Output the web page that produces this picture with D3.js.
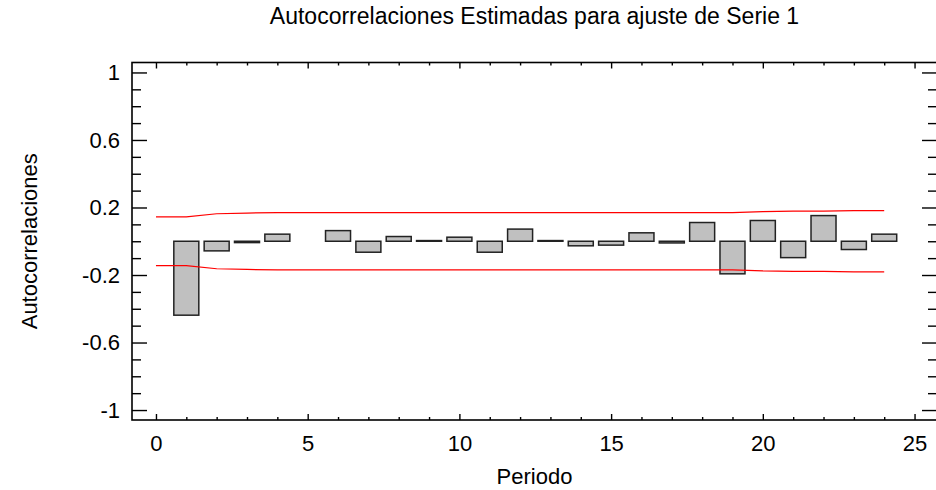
<!DOCTYPE html>
<html>
<head>
<meta charset="utf-8">
<script src="https://cdn.jsdelivr.net/npm/d3@7"></script>
<style>
  html, body { margin: 0; padding: 0; background: #fff; }
  svg { display: block; }
  text { font-family: "Liberation Sans", Arial, sans-serif; fill: #000; }
</style>
</head>
<body>
<svg id="chart" width="936" height="490"></svg>
<script>
// Estimated autocorrelations by lag
const lags = [1, 2, 3, 4, 5, 6, 7, 8, 9, 10, 11, 12, 13, 14, 15, 16, 17, 18, 19, 20, 21, 22, 23, 24];
const acf = [-0.438, -0.057, -0.008, 0.042, 0.0, 0.063, -0.065, 0.028, 0.004, 0.024, -0.065, 0.072,
             0.004, -0.027, -0.023, 0.050, -0.010, 0.111, -0.193, 0.123, -0.097, 0.152, -0.049, 0.042];

// 95% probability limits around zero
const limitLags = [0, 1, 2, 3, 4, 5, 6, 7, 8, 9, 10, 11, 12, 13, 14, 15, 16, 17, 18, 19, 20, 21, 22, 23, 24];
const limits = [0.144, 0.144, 0.163, 0.167, 0.170, 0.170, 0.170, 0.170, 0.170, 0.170, 0.170, 0.170, 0.170,
                0.170, 0.170, 0.170, 0.170, 0.170, 0.170, 0.170, 0.176, 0.178, 0.178, 0.182, 0.182];

const xMajorTicks = [0, 5, 10, 15, 20, 25];
const yMajorTicks = [-1, -0.6, -0.2, 0.2, 0.6, 1];
const yTickLabels = ["-1", "-0.6", "-0.2", "0.2", "0.6", "1"];

const titleText = "Autocorrelaciones Estimadas para ajuste de Serie 1";
const xTitle = "Periodo";
const yTitle = "Autocorrelaciones";

const svg = d3.select("#chart");
const plotLeft = 132, plotRight = 937, plotTop = 62.5, plotBottom = 420;
const fontSize = 22;

const x = d3.scaleLinear().domain([-0.79, 25.74]).range([plotLeft, plotRight]);
const y = d3.scaleLinear().domain([-1.059, 1.059]).range([plotBottom, plotTop]);

const xMinor = d3.range(0, 26).filter(v => v % 5 !== 0);
const yMinor = d3.range(-10, 11).map(v => v / 10).filter(v => !yMajorTicks.some(m => Math.abs(m - v) < 1e-9));

// bars
const barW = 25;
svg.append("g")
  .selectAll("rect")
  .data(lags.map((l, i) => ({ lag: l, v: acf[i] })).filter(d => d.v !== 0))
  .join("rect")
  .attr("x", d => x(d.lag) - barW / 2)
  .attr("width", barW)
  .attr("y", d => Math.min(y(d.v), y(0)))
  .attr("height", d => Math.abs(y(d.v) - y(0)))
  .attr("fill", "#c0c0c0")
  .attr("stroke", "#222")
  .attr("stroke-width", 1.5);

// probability limits
const upper = d3.line().x((d, i) => x(limitLags[i])).y(d => y(d));
const lower = d3.line().x((d, i) => x(limitLags[i])).y(d => y(-d));
svg.append("path").attr("d", upper(limits)).attr("fill", "none").attr("stroke", "#ff0000").attr("stroke-width", 1.2);
svg.append("path").attr("d", lower(limits)).attr("fill", "none").attr("stroke", "#ff0000").attr("stroke-width", 1.2);

// axes: ticks point inward on all four sides
function styleAxis(g) {
  g.select(".domain").remove();
  g.selectAll(".tick line").attr("stroke", "#000").attr("stroke-width", 1.4);
  g.selectAll(".tick text").style("font-size", fontSize + "px").style("font-family", "'Liberation Sans', Arial, sans-serif").attr("fill", "#000");
}

// bottom
svg.append("g").attr("transform", `translate(0,${plotBottom})`)
  .call(d3.axisBottom(x).tickValues(xMajorTicks).tickSizeInner(-6).tickSizeOuter(0).tickPadding(15.5).tickFormat(d3.format("d")))
  .call(styleAxis);
svg.append("g").attr("transform", `translate(0,${plotBottom})`)
  .call(d3.axisBottom(x).tickValues(xMinor).tickSizeInner(-3).tickSizeOuter(0).tickFormat(""))
  .call(styleAxis);
// top
svg.append("g").attr("transform", `translate(0,${plotTop})`)
  .call(d3.axisTop(x).tickValues(xMajorTicks).tickSizeInner(-6).tickSizeOuter(0).tickFormat(""))
  .call(styleAxis);
svg.append("g").attr("transform", `translate(0,${plotTop})`)
  .call(d3.axisTop(x).tickValues(xMinor).tickSizeInner(-3).tickSizeOuter(0).tickFormat(""))
  .call(styleAxis);
// left
svg.append("g").attr("transform", `translate(${plotLeft},0)`)
  .call(d3.axisLeft(y).tickValues(yMajorTicks).tickSizeInner(-15).tickSizeOuter(0).tickPadding(12)
    .tickFormat((d, i) => yTickLabels[i]))
  .call(styleAxis);
svg.append("g").attr("transform", `translate(${plotLeft},0)`)
  .call(d3.axisLeft(y).tickValues(yMinor).tickSizeInner(-9).tickSizeOuter(0).tickFormat(""))
  .call(styleAxis);
// right
svg.append("g").attr("transform", `translate(${plotRight},0)`)
  .call(d3.axisRight(y).tickValues(yMajorTicks).tickSizeInner(-15).tickSizeOuter(0).tickFormat(""))
  .call(styleAxis);
svg.append("g").attr("transform", `translate(${plotRight},0)`)
  .call(d3.axisRight(y).tickValues(yMinor).tickSizeInner(-9).tickSizeOuter(0).tickFormat(""))
  .call(styleAxis);

// frame
svg.append("rect")
  .attr("x", plotLeft).attr("y", plotTop)
  .attr("width", plotRight - plotLeft).attr("height", plotBottom - plotTop)
  .attr("fill", "none").attr("stroke", "#000").attr("stroke-width", 1.6);

// titles
svg.append("text")
  .attr("x", (plotLeft + plotRight) / 2).attr("y", 23.5)
  .attr("text-anchor", "middle").style("font-size", "23px")
  .text(titleText);
svg.append("text")
  .attr("x", (plotLeft + plotRight) / 2).attr("y", 483.5)
  .attr("text-anchor", "middle").style("font-size", fontSize + "px")
  .text(xTitle);
svg.append("text")
  .attr("transform", `translate(36.5,${(plotTop + plotBottom) / 2}) rotate(-90)`)
  .attr("text-anchor", "middle").style("font-size", fontSize + "px")
  .text(yTitle);
</script>
</body>
</html>
